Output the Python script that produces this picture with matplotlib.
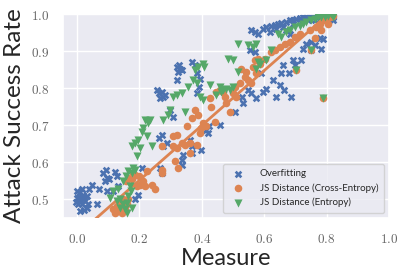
import numpy as np
import matplotlib
matplotlib.use('Agg')
import matplotlib.pyplot as plt
import seaborn as sns
from matplotlib.ticker import FuncFormatter

# measure value vs. attack success rate, one array pair per measure
over_x = [-0.001, 0.007, 0.015, 0.001, 0.010, 0.020, 0.004, 0.015, 0.026, 0.033,
          0.039, 0.047, 0.022, 0.031, 0.010, 0.036, -0.003, 0.018, 0.071, 0.065,
          0.084, 0.093, 0.097, 0.089, 0.103, 0.122, 0.095, 0.116, 0.132, 0.127,
          0.207, 0.186, 0.196, 0.266, 0.271, 0.263, 0.272, 0.276, 0.287, 0.255,
          0.263, 0.271, 0.276, 0.282, 0.266, 0.298, 0.308, 0.319, 0.330, 0.324,
          0.335, 0.319, 0.327, 0.338, 0.340, 0.335, 0.367, 0.378, 0.383, 0.394,
          0.391, 0.383, 0.362, 0.367, 0.367, 0.399, 0.413, 0.420, 0.423, 0.458,
          0.506, 0.530, 0.532, 0.548, 0.559, 0.575, 0.591, 0.596, 0.605, 0.554,
          0.570, 0.628, 0.639, 0.650, 0.663, 0.655, 0.660, 0.679, 0.687, 0.692,
          0.698, 0.719, 0.726, 0.735, 0.751, 0.762, 0.778, 0.790, 0.783, 0.751,
          0.559, 0.570, 0.580, 0.596, 0.607, 0.623, 0.634, 0.644, 0.655, 0.671,
          0.682, 0.692, 0.703, 0.714, 0.724, 0.735, 0.746, 0.756, 0.767, 0.778,
          0.788, 0.799, 0.810, 0.820, 0.618, 0.639, 0.660, 0.671, 0.692, 0.719,
          0.740, 0.762, 0.682, 0.703, 0.820, 0.804]
over_y = [0.522, 0.518, 0.527, 0.504, 0.500, 0.504, 0.489, 0.487, 0.496, 0.509,
          0.527, 0.540, 0.471, 0.478, 0.469, 0.487, 0.493, 0.513, 0.527, 0.487,
          0.571, 0.579, 0.558, 0.549, 0.554, 0.573, 0.522, 0.522, 0.536, 0.563,
          0.585, 0.500, 0.513, 0.585, 0.571, 0.665, 0.674, 0.643, 0.652, 0.795,
          0.786, 0.790, 0.777, 0.781, 0.773, 0.741, 0.723, 0.857, 0.853, 0.844,
          0.849, 0.822, 0.862, 0.607, 0.621, 0.594, 0.871, 0.862, 0.840, 0.826,
          0.804, 0.786, 0.661, 0.643, 0.625, 0.634, 0.688, 0.679, 0.697, 0.701,
          0.737, 0.777, 0.759, 0.795, 0.786, 0.773, 0.840, 0.790, 0.799, 0.902,
          0.898, 0.822, 0.777, 0.808, 0.795, 0.840, 0.862, 0.840, 0.777, 0.875,
          0.862, 0.877, 0.907, 0.920, 0.924, 0.916, 0.936, 0.933, 0.907, 0.902,
          0.956, 0.951, 0.947, 0.960, 0.965, 0.969, 0.972, 0.974, 0.975, 0.978,
          0.983, 0.984, 0.987, 0.990, 0.992, 0.993, 0.996, 0.997, 0.994, 0.992,
          0.996, 0.999, 0.997, 0.993, 0.951, 0.960, 0.965, 0.956, 0.974, 0.978,
          0.983, 0.983, 0.947, 0.938, 0.983, 0.987]

jsce_x = [0.116, 0.122, 0.132, 0.127, 0.143, 0.154, 0.159, 0.148, 0.138, 0.164,
          0.157, 0.164, 0.175, 0.178, 0.186, 0.191, 0.202, 0.212, 0.199, 0.223,
          0.218, 0.239, 0.250, 0.271, 0.271, 0.271, 0.314, 0.324, 0.308, 0.319,
          0.335, 0.346, 0.362, 0.383, 0.362, 0.308, 0.319, 0.351, 0.367, 0.378,
          0.388, 0.399, 0.404, 0.394, 0.415, 0.431, 0.426, 0.442, 0.447, 0.458,
          0.468, 0.474, 0.479, 0.490, 0.500, 0.506, 0.511, 0.522, 0.538, 0.548,
          0.559, 0.527, 0.543, 0.564, 0.570, 0.580, 0.586, 0.575, 0.602, 0.623,
          0.634, 0.650, 0.666, 0.682, 0.698, 0.714, 0.703, 0.751, 0.762, 0.788,
          0.746, 0.767, 0.778, 0.794, 0.810, 0.820, 0.804, 0.783]
jsce_y = [0.473, 0.464, 0.469, 0.482, 0.464, 0.473, 0.487, 0.500, 0.491, 0.500,
          0.549, 0.558, 0.554, 0.571, 0.567, 0.536, 0.540, 0.549, 0.563, 0.576,
          0.536, 0.540, 0.527, 0.571, 0.580, 0.643, 0.603, 0.585, 0.643, 0.639,
          0.652, 0.647, 0.652, 0.647, 0.625, 0.670, 0.674, 0.697, 0.719, 0.741,
          0.728, 0.692, 0.706, 0.679, 0.697, 0.750, 0.773, 0.710, 0.790, 0.795,
          0.790, 0.777, 0.759, 0.737, 0.786, 0.804, 0.777, 0.813, 0.831, 0.822,
          0.813, 0.853, 0.844, 0.857, 0.875, 0.880, 0.866, 0.840, 0.880, 0.898,
          0.902, 0.911, 0.920, 0.924, 0.938, 0.947, 0.849, 0.902, 0.936, 0.775,
          0.956, 0.965, 0.974, 0.983, 0.992, 0.996, 0.974, 0.956]

jse_x = [0.106, 0.116, 0.132, 0.138, 0.146, 0.154, 0.159, 0.164, 0.170, 0.175,
         0.180, 0.186, 0.164, 0.157, 0.148, 0.172, 0.159, 0.138, 0.127, 0.175,
         0.175, 0.186, 0.196, 0.207, 0.212, 0.218, 0.228, 0.234, 0.223, 0.239,
         0.191, 0.202, 0.276, 0.292, 0.298, 0.308, 0.319, 0.335, 0.346, 0.356,
         0.372, 0.383, 0.394, 0.404, 0.378, 0.388, 0.404, 0.406, 0.426, 0.447,
         0.458, 0.463, 0.468, 0.479, 0.490, 0.500, 0.516, 0.484, 0.500, 0.548,
         0.564, 0.575, 0.580, 0.575, 0.586, 0.607, 0.623, 0.644, 0.655, 0.671,
         0.682, 0.698, 0.714, 0.724, 0.735, 0.751, 0.762, 0.772, 0.783, 0.794,
         0.804, 0.815, 0.820, 0.703, 0.751, 0.788, 0.516]
jse_y = [0.504, 0.522, 0.527, 0.500, 0.487, 0.473, 0.464, 0.509, 0.536, 0.571,
         0.585, 0.580, 0.576, 0.563, 0.549, 0.522, 0.491, 0.478, 0.496, 0.478,
         0.643, 0.652, 0.661, 0.683, 0.692, 0.714, 0.706, 0.714, 0.670, 0.643,
         0.616, 0.639, 0.714, 0.728, 0.741, 0.777, 0.781, 0.786, 0.737, 0.804,
         0.822, 0.813, 0.777, 0.768, 0.849, 0.857, 0.866, 0.857, 0.808, 0.781,
         0.804, 0.790, 0.795, 0.799, 0.795, 0.804, 0.920, 0.880, 0.877, 0.916,
         0.911, 0.920, 0.871, 0.853, 0.866, 0.875, 0.902, 0.947, 0.938, 0.951,
         0.956, 0.965, 0.969, 0.974, 0.978, 0.983, 0.987, 0.992, 0.992, 0.993,
         0.995, 0.999, 0.993, 0.849, 0.902, 0.775, 0.844]

sns.set_theme(style='darkgrid', palette='deep')
plt.rcParams['font.family'] = ['Lato', 'DejaVu Sans']
plt.rcParams['mathtext.fontset'] = 'cm'
cols = sns.color_palette('deep')

fig = plt.figure(figsize=(4.15, 2.77), dpi=100)
ax = fig.add_axes([0.152, 0.213, 0.785, 0.736])

ax.scatter(over_x, over_y, marker='X', s=30, color=cols[0], linewidth=0,
           label='Overfitting', zorder=2)
ax.scatter(jsce_x, jsce_y, marker='o', s=30, color=cols[1], linewidth=0,
           label='JS Distance (Cross-Entropy)', zorder=3)
ax.scatter(jse_x, jse_y, marker='v', s=34, color=cols[2], linewidth=0,
           label='JS Distance (Entropy)', zorder=4)

# linear fit over the cross-entropy points
k, b = np.polyfit(jsce_x, jsce_y, 1)
xs = np.array([-0.05, 1.0])
ax.plot(xs, k * xs + b, color=cols[1], lw=2, zorder=3)

ax.set_xlim(-0.045, 1.0)
ax.set_ylim(0.45, 1.0)
ax.set_xticks([0.0, 0.2, 0.4, 0.6, 0.8, 1.0])
ax.set_yticks([0.5, 0.6, 0.7, 0.8, 0.9, 1.0])
fmt = FuncFormatter(lambda v, p: '$%.1f$' % v)
ax.xaxis.set_major_formatter(fmt)
ax.yaxis.set_major_formatter(fmt)
ax.tick_params(labelsize=9.5, labelcolor='0.4', pad=4)

ax.set_xlabel('Measure', fontsize=17, labelpad=2)
ax.set_ylabel('Attack Success Rate', fontsize=17.5, labelpad=4)

ax.legend(loc='lower right', fontsize=7, frameon=True, borderpad=0.6,
          handletextpad=1.2, labelspacing=0.5)

fig.savefig('out.png', dpi=100)
